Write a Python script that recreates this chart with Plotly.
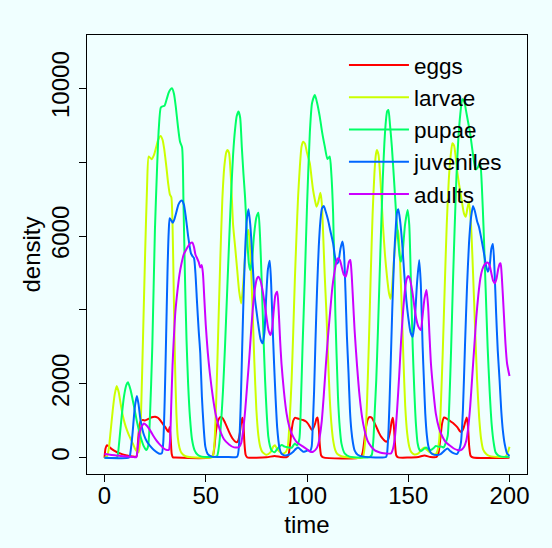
import plotly.graph_objects as go

# ---- data (time, density) ----
t_eggs = [0, 0.5, 1.2, 2, 3, 4, 5, 6, 7, 8, 9, 10, 11, 12, 13, 14, 15, 15.8, 16.5, 17.2, 18, 19, 20, 21, 22, 23, 24, 25, 26, 27, 28, 29, 30, 31, 31.6, 32.2, 32.7, 33.2, 33.8, 35,
          52, 53.5, 54.3, 55, 55.8, 56.8, 57.5, 58.5, 59.5, 60.5, 61.5, 62.5, 63.5, 64.5, 65.3, 66, 66.8, 67.5, 68.1, 68.6, 69.1, 69.7, 70.5,
          80, 84, 87, 90, 90.8, 91.5, 92.3, 93.2, 94, 95, 96.5, 98, 99.5, 100.5, 101.5, 102.3, 103, 104, 104.7, 105.2, 105.8, 106.4, 107, 108,
          126.5, 127.5, 128.5, 129.3, 130.2, 131, 132, 133, 134.2, 135.5, 136.6, 137.8, 139.1, 140, 141, 141.8, 142.4, 142.9, 143.5, 144.1, 145,
          150, 155, 158, 161, 164, 165, 166, 166.8, 167.7, 169, 171, 172.5, 174.3, 175.5, 176.3, 177.3, 178.3, 178.9, 179.5, 180.1, 180.8, 182, 200]
eggs = [0, 250, 340, 310, 260, 220, 185, 155, 130, 110, 90, 75, 62, 50, 40, 32, 25, 30, 400, 850, 1010, 1020, 1010, 1030, 1060, 1090, 1105, 1110, 1090, 1050, 980, 900, 830, 740, 700, 830, 500, 100, 10, 5,
        5, 50, 300, 700, 950, 1080, 1100, 1060, 950, 830, 700, 590, 500, 440, 420, 460, 650, 950, 1080, 900, 400, 80, 10,
        10, 50, 20, 15, 60, 300, 700, 1000, 1080, 1070, 1040, 1020, 980, 920, 830, 760, 790, 920, 1060, 1090, 800, 300, 60, 10,
        10, 150, 550, 880, 1060, 1100, 1080, 980, 840, 680, 570, 490, 430, 480, 700, 980, 1080, 850, 350, 60, 10,
        5, 20, 60, 20, 20, 150, 600, 950, 1090, 1060, 980, 920, 820, 720, 700, 800, 1000, 1090, 850, 300, 50, 5, 0]

t_larvae = [0, 1, 2, 3, 4, 5, 6, 7, 8, 9, 10, 11, 12, 13, 14, 15, 16, 16.8, 17.5, 18.2, 19, 20, 21, 21.8, 22.5, 23.3, 24.5, 25.5, 26.5, 27.7, 28.7, 29.5, 30.5, 31.5, 32.3, 33, 33.6, 34.2, 34.8, 35.5, 36.2, 37, 38, 40, 43, 53,
            53.5, 54.3, 55.2, 56.2, 57.2, 58.2, 59.2, 60.2, 60.8, 61.5, 62.5, 63.5, 64.5, 65.5, 66.5, 67.5, 68.5, 69.5, 70.3, 71.1, 72, 73, 74, 75, 76, 77, 78, 80, 82, 83.3, 84.2, 85, 86.5, 88, 89.5,
            90.5, 91.5, 92.4, 93.2, 94, 94.8, 95.6, 96.5, 97.3, 98.1, 99, 100, 101.4, 102.2, 103, 104, 104.7, 105.5, 106.6, 107.3, 107.9, 108.7, 109.6, 110.4, 111.2, 112, 112.9, 114, 115, 117, 120, 127.5,
            128, 128.8, 129.7, 130.6, 131.5, 132.4, 133.3, 134, 134.5, 135.3, 136.5, 137.5, 138.5, 139.5, 140.5, 141.3, 142, 143, 144, 145, 145.8, 146.7, 147.6, 148.5, 149.5, 150.5, 151.5, 153, 155, 156.5, 157.9, 159, 160.4, 162, 163.6, 164.5, 165.3,
            166, 167, 168, 169, 170, 171, 171.8, 172.6, 173.5, 174.3, 175.1, 176.3, 177.5, 178.4, 179.2, 180, 181, 182, 183, 184, 185, 186, 187, 188.5, 190, 195, 198, 199, 200]
larvae = [0, 20, 200, 700, 1250, 1700, 1940, 1780, 1450, 1150, 930, 760, 620, 500, 380, 250, 170, 150, 400, 1500, 3200, 5400, 7300, 8150, 8120, 8080, 8200, 8400, 8600, 8707, 8600, 8350, 7900, 7400, 7120, 7050, 6300, 4500, 2600, 1200, 550, 280, 130, 40, 10, 10,
          40, 400, 1600, 3500, 5400, 7000, 7900, 8280, 8330, 8250, 7500, 6300, 5712, 5100, 4500, 4177, 4700, 5500, 6000, 6163, 5600, 4200, 2600, 1300, 600, 280, 150, 80, 150, 300, 340, 260, 160, 110, 150,
          300, 1100, 2100, 3400, 4810, 6000, 7065, 7900, 8420, 8554, 8500, 8250, 7967, 7600, 7245, 6950, 6794, 6900, 7173, 6900, 6163, 5000, 3907, 2700, 1651, 950, 478, 200, 100, 40, 10, 10,
          100, 500, 1600, 3200, 5000, 6600, 7700, 8200, 8328, 8200, 7300, 6300, 5500, 4900, 4450, 4300, 4600, 5400, 6000, 6150, 5500, 4200, 2700, 1400, 650, 300, 150, 90, 120, 220, 280, 220, 160, 110, 100, 200, 500,
          1300, 2800, 4600, 6300, 7500, 8200, 8509, 8450, 8100, 7700, 7400, 7000, 6614, 6524, 6750, 6930, 6300, 5000, 3500, 2100, 1100, 500, 220, 100, 50, 20, 30, 120, 300]

t_pupae = [0, 6, 6.5, 7.2, 8.3, 9.6, 10.8, 11.6, 12.9, 14.6, 16.2, 17.8, 19.5, 20.6, 21.5, 22.3, 23.6, 24.9, 26, 26.8, 27.8, 28.7, 29.7, 30.7, 31.7, 32.6, 33.4, 34.3, 35.2, 36.2, 37.3, 38.3, 39, 39.7, 40.5, 41.3, 42.2, 43.2, 44.5, 46, 48, 52,
           55.5, 56.5, 57.5, 58.5, 59.5, 60.5, 61.5, 62.5, 63.5, 64.5, 65.3, 66.2, 67, 67.8, 68.6, 69.4, 70.2, 70.7, 71.3, 71.9, 72.8, 73.8, 75, 76, 76.8, 77.6, 78.5, 79.3, 80.1, 80.9, 81.7, 82.5, 84, 85.5, 87.5, 89, 90, 92.4, 94, 95, 96.2,
           97, 97.8, 98.9, 100, 101.4, 102.5, 103.9, 105, 106.3, 107.5, 108.8, 110.1, 111.2, 112, 112.9, 114, 115.3, 116.2, 117, 118.6, 121, 131,
           132, 132.8, 133.5, 134.2, 135, 135.8, 136.6, 137.4, 138.2, 139, 139.6, 140.2, 141, 141.9, 143, 144, 145, 145.8, 146.4, 147.3, 148.4, 149.7, 150.5, 151.3, 152.2, 153, 153.8, 154.6, 155.5, 156.3, 157.5, 158.7, 160, 161.2, 162.5, 163.6, 165, 166.5, 167.5, 168.5,
           169.5, 170.3, 171.2, 172, 172.9, 173.8, 174.7, 175.7, 176.7, 177.6, 178.5, 179.5, 180.5, 181.5, 182.5, 183.3, 184.3, 185.5, 186.3, 187.2, 188.2, 189.2, 190.2, 191.2, 192.2, 193.1, 194.5, 196, 200]
pupae = [0, 0, 50, 390, 1020, 1650, 1970, 2040, 1830, 1380, 930, 570, 300, 210, 300, 900, 3000, 6160, 7900, 8900, 9480, 9510, 9530, 9700, 9880, 9970, 9997, 9850, 9500, 9000, 8550, 8400, 6900, 5000, 3200, 2000, 1100, 500, 200, 80, 30, 20,
         40, 300, 900, 1800, 3000, 4400, 5800, 7100, 8200, 8900, 9250, 9370, 9200, 8420, 7700, 7065, 6200, 5710, 5250, 5080, 5300, 6000, 6500, 6630, 6000, 4810, 3300, 2100, 1200, 570, 320, 200, 150, 250, 343, 300, 290, 270, 388, 330, 500,
         1500, 3000, 4800, 6800, 8800, 9600, 9817, 9600, 9230, 8800, 8420, 8085, 8150, 7700, 6614, 3907, 1650, 800, 388, 117, 30, 20,
         80, 500, 1300, 2100, 3400, 4810, 6200, 7516, 8500, 9140, 9380, 9411, 9000, 8420, 7500, 6614, 5900, 5450, 5305, 5600, 6300, 6704, 6300, 4800, 3000, 1800, 900, 400, 220, 180, 230, 280, 230, 210, 260, 316, 300, 300, 280, 400,
         600, 1500, 3000, 4600, 6200, 7600, 8600, 9300, 9700, 9650, 9400, 9100, 8800, 8400, 8000, 7800, 7850, 8000, 7400, 6200, 4600, 3000, 1800, 900, 400, 150, 60, 30, 20]

t_juveniles = [0, 12, 12.5, 13.7, 15, 16, 16.8, 17.8, 19.5, 21, 22.5, 24.4, 26.8, 28.3, 29, 29.7, 30.4, 31.1, 31.7, 32.2, 33, 33.7, 34.5, 35.5, 36.5, 37.5, 38.3, 39.2, 40.2, 41.3, 42.7, 43.5, 44.2, 44.9, 45.7, 46.5, 47.3, 48.1, 49, 49.8, 51, 53, 60, 65.5,
               66.5, 67.3, 68, 68.8, 69.6, 70.3, 71.1, 72, 72.7, 73.5, 74.3, 75.2, 76.2, 77.1, 78.1, 79, 79.8, 80.7, 81.6, 82.3, 83, 83.7, 84.5, 85.3, 86.3, 87.3, 88.5, 90.7, 92, 93.2, 94.5, 95.6, 96.8, 98.1, 99.5, 100.5, 101.5, 102.3,
               102.8, 103.5, 104.2, 105, 105.8, 106.6, 107.4, 108.3, 109.3, 110.4, 111.5, 112.9, 113.8, 114.7, 115.5, 116.5, 117.5, 118.2, 119, 119.7, 120.5, 121.2, 121.9, 122.7, 123.5, 125, 128, 139,
               139.5, 140.3, 141.2, 142.1, 143, 143.9, 144.5, 145.1, 146, 147, 148, 149, 150, 151.1, 152.2, 153.2, 154.3, 155.4, 156.2, 157.1, 157.8, 158.4, 159.2, 160, 161, 162, 164, 166, 168, 169.4, 170.8, 172.6, 174, 175.1,
               176, 177, 178, 179, 180, 181, 182, 183, 184, 184.9, 186.2, 187.4, 188.4, 189.3, 190.2, 191, 191.8, 192.5, 193.4, 194.2, 195.1, 195.9, 196.7, 197.7, 198.8, 200]
juveniles = [0, 0, 40, 570, 1380, 1670, 1450, 1020, 614, 430, 320, 208, 117, 120, 400, 1500, 3200, 5000, 6100, 6480, 6420, 6361, 6450, 6650, 6850, 6940, 6957, 6850, 6500, 6000, 5531, 5450, 5400, 5000, 4200, 3456, 2820, 1650, 800, 300, 100, 30, 20, 30,
             400, 1500, 3000, 4600, 5800, 6450, 6722, 6300, 5712, 4900, 4300, 3907, 3500, 3200, 3095, 3400, 4300, 5100, 5333, 4700, 3600, 2600, 1600, 800, 300, 120, 72, 72, 110, 162, 240, 280, 220, 162, 180, 200, 180, 300,
             800, 1800, 3200, 4600, 5700, 6400, 6750, 6812, 6650, 6433, 6150, 5800, 5450, 5250, 5300, 5650, 5850, 5600, 4500, 3300, 2300, 1300, 750, 400, 200, 80, 30, 20,
             100, 800, 2300, 4000, 5400, 6300, 6650, 6722, 6400, 5800, 5000, 4300, 3800, 3400, 3275, 3700, 4700, 5350, 4700, 3000, 2000, 1200, 600, 300, 150, 100, 72, 100, 200, 253, 180, 117, 100, 200,
             400, 1300, 3000, 4600, 5800, 6500, 6812, 6650, 6400, 6253, 5900, 5530, 5200, 5035, 5200, 5650, 5784, 5200, 3907, 2900, 2100, 1300, 750, 350, 117, 50]

t_adults = [0, 2, 5, 8, 11, 14, 15.7, 16.3, 17, 17.7, 18.3, 19.5, 20.7, 21.9, 23.2, 24.4, 25.6, 26.8, 28, 29.3, 30.9, 31.8, 32.4, 33, 33.6, 34.3, 35, 36, 37, 38, 39.1, 40.5, 41.6, 42.5, 43.4, 44.2, 44.9, 45.7, 46.5, 47.3, 48, 48.6, 49.3, 50, 51, 52, 53.5, 55, 57, 59, 61.5, 64, 66.5,
            67.5, 68.5, 69.5, 70.5, 71.5, 72.5, 73.5, 74.5, 75.3, 76, 77, 78, 79, 80, 81, 82, 82.8, 83.6, 84.4, 85.3, 86, 86.7, 87.4, 88.6, 89.9, 91.2, 92.4, 94.8, 98.1, 100, 101.4, 103, 104.7,
            105.5, 106.3, 107.3, 108.3, 109.3, 110.4, 111.5, 112.5, 113.5, 114.4, 115.3, 116.2, 117.2, 118.2, 119.1, 120, 120.7, 121.4, 122, 122.7, 123.5, 124.7, 126, 127.2, 128.4, 130, 131.7, 133.5, 135, 137, 139, 141.5,
            142.5, 143.5, 144.5, 145.5, 146.5, 147.5, 148.5, 149.3, 150, 150.8, 152, 153, 154, 155, 156.2, 157, 158, 159, 159.8, 160.5, 161.2, 162.4, 163.6, 165.2, 166.9, 168.5, 170.2, 172.5, 174.3, 176, 177.6,
            178.6, 179.6, 180.6, 181.6, 182.6, 183.6, 184.6, 185.6, 186.6, 187.6, 188.5, 189.3, 190.2, 191.2, 192, 192.8, 193.6, 194.4, 195.2, 195.6, 196.2, 197.2, 198, 198.8, 200]
adults = [100, 85, 65, 50, 35, 20, 15, 200, 570, 760, 840, 929, 880, 794, 680, 570, 470, 390, 320, 250, 208, 215, 500, 1500, 2500, 3300, 3950, 4500, 4950, 5250, 5500, 5650, 5750, 5810, 5820, 5700, 5500, 5400, 5300, 5150, 5215, 5000, 4300, 3600, 2850, 2300, 1650, 1150, 750, 500, 360, 280, 290,
          400, 750, 1300, 2000, 2700, 3500, 4200, 4650, 4850, 4900, 4800, 4550, 4200, 3800, 3450, 3320, 3500, 4000, 4400, 4490, 4000, 3200, 2550, 1800, 1200, 850, 660, 430, 300, 230, 170, 162, 250,
          350, 570, 1000, 1700, 2500, 3300, 4000, 4600, 5000, 5280, 5396, 5350, 5150, 4950, 4900, 5100, 5300, 5350, 5000, 4300, 3456, 2500, 1650, 1100, 750, 450, 300, 200, 162, 130, 117, 117,
          250, 600, 1300, 2200, 3200, 4000, 4600, 4850, 4917, 4850, 4500, 4100, 3750, 3550, 3456, 3800, 4300, 4540, 4100, 3300, 2550, 1800, 1200, 800, 568, 420, 343, 250, 207, 207, 300,
          450, 800, 1400, 2200, 3000, 3800, 4400, 4850, 5100, 5220, 5270, 5278, 5200, 4950, 4780, 4719, 4850, 5100, 5250, 5260, 4900, 3907, 3100, 2550, 2210]

names = ["eggs", "larvae", "pupae", "juveniles", "adults"]
colors = ["#FF0000", "#CCFF00", "#00FF66", "#0066FF", "#CC00FF"]
series = [(t_eggs, eggs), (t_larvae, larvae), (t_pupae, pupae), (t_juveniles, juveniles), (t_adults, adults)]

x_ticks = [0, 50, 100, 150, 200]
y_ticks = [0, 2000, 4000, 6000, 8000, 10000]
y_tick_text = ["0", "2000", "", "6000", "", "10000"]

FONT = "Liberation Sans, Arial, Helvetica, sans-serif"
BG = "#F0FFFF"

fig = go.Figure()
for name, col, (tt, vv) in zip(names, colors, series):
    fig.add_trace(go.Scatter(x=tt, y=vv, mode="lines", name=name,
                             line=dict(color=col, width=2, shape="spline", smoothing=0.6)))

fig.update_layout(
    width=552, height=548,
    margin=dict(l=87, r=25, t=35, b=74, autoexpand=False),
    paper_bgcolor=BG, plot_bgcolor=BG,
    font=dict(family=FONT, size=24, color="black"),
    showlegend=True,
    legend=dict(x=0.584, y=0.98, xanchor="left", yanchor="top",
                bgcolor="rgba(0,0,0,0)", borderwidth=0, itemwidth=60,
                font=dict(family=FONT, size=22.5, color="black")),
    xaxis=dict(range=[-8.64, 208.64], tickvals=x_ticks, ticks="outside", ticklen=7,
               tickwidth=1, tickcolor="black", showline=True, mirror=True,
               linecolor="black", linewidth=1, showgrid=False, zeroline=False,
               automargin=False, ticklabelstandoff=-7,
               tickfont=dict(size=24), title=dict(text="time", font=dict(size=24), standoff=8)),
    yaxis=dict(range=[-440, 11440], tickvals=y_ticks, ticktext=y_tick_text, tickangle=-90,
               ticks="outside", ticklen=7, tickwidth=1, tickcolor="black",
               showline=True, mirror=True, linecolor="black", linewidth=1,
               showgrid=False, zeroline=False, automargin=False, tickfont=dict(size=24),
               title=dict(text="density", font=dict(size=24), standoff=0)),
)

fig.write_html("out.html", config={"displayModeBar": False},
               post_script="document.body.style.margin='0';document.body.style.background='#F0FFFF';")
